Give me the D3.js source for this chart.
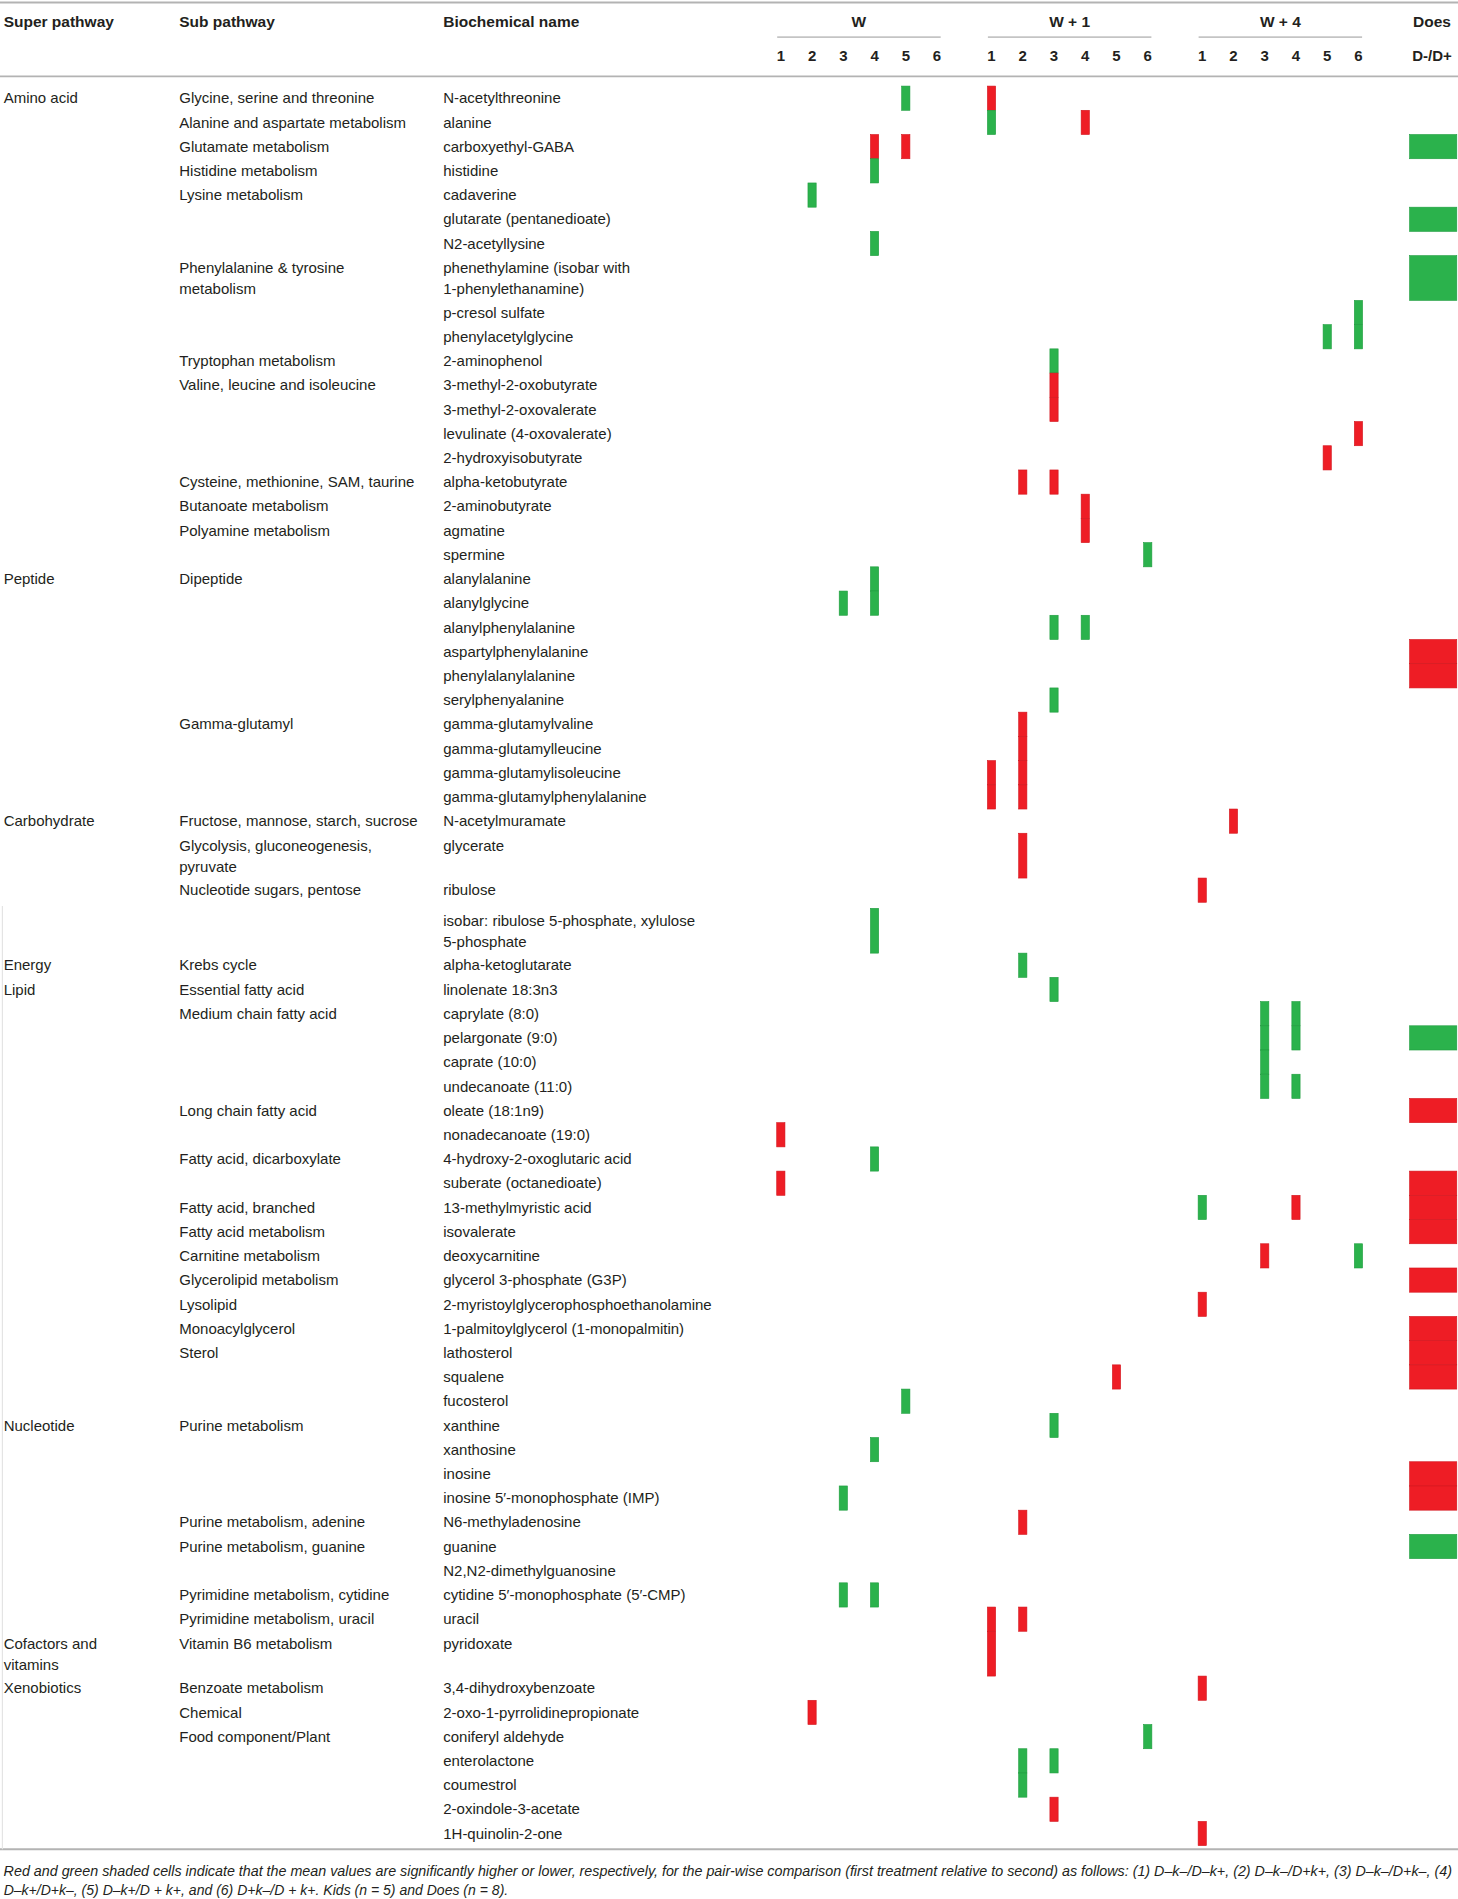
<!DOCTYPE html>
<html><head><meta charset="utf-8">
<script src="https://cdn.jsdelivr.net/npm/d3@7"></script>
<style>
html,body{margin:0;padding:0;background:#fff;}
svg{display:block;}
text{font-family:"Liberation Sans",Arial,sans-serif;fill:#231f20;}
</style></head>
<body>
<div id="chart"></div>
<script>
// ---------------- DATA ----------------
const groups = ["W", "W + 1", "W + 4"];
const comparisons = [1, 2, 3, 4, 5, 6];
const headers = ["Super pathway", "Sub pathway", "Biochemical name"];

const names = [
"N-acetylthreonine","alanine","carboxyethyl-GABA","histidine","cadaverine",
"glutarate (pentanedioate)","N2-acetyllysine","phenethylamine (isobar with\n1-phenylethanamine)",
"p-cresol sulfate","phenylacetylglycine","2-aminophenol","3-methyl-2-oxobutyrate",
"3-methyl-2-oxovalerate","levulinate (4-oxovalerate)","2-hydroxyisobutyrate","alpha-ketobutyrate",
"2-aminobutyrate","agmatine","spermine","alanylalanine","alanylglycine","alanylphenylalanine",
"aspartylphenylalanine","phenylalanylalanine","serylphenyalanine","gamma-glutamylvaline",
"gamma-glutamylleucine","gamma-glutamylisoleucine","gamma-glutamylphenylalanine","N-acetylmuramate",
"glycerate","ribulose","isobar: ribulose 5-phosphate, xylulose\n5-phosphate","alpha-ketoglutarate",
"linolenate 18:3n3","caprylate (8:0)","pelargonate (9:0)","caprate (10:0)","undecanoate (11:0)",
"oleate (18:1n9)","nonadecanoate (19:0)","4-hydroxy-2-oxoglutaric acid","suberate (octanedioate)",
"13-methylmyristic acid","isovalerate","deoxycarnitine","glycerol 3-phosphate (G3P)",
"2-myristoylglycerophosphoethanolamine","1-palmitoylglycerol (1-monopalmitin)","lathosterol",
"squalene","fucosterol","xanthine","xanthosine","inosine","inosine 5′-monophosphate (IMP)",
"N6-methyladenosine","guanine","N2,N2-dimethylguanosine","cytidine 5′-monophosphate (5′-CMP)",
"uracil","pyridoxate","3,4-dihydroxybenzoate","2-oxo-1-pyrrolidinepropionate","coniferyl aldehyde",
"enterolactone","coumestrol","2-oxindole-3-acetate","1H-quinolin-2-one"
];

const superPathways = [
["N-acetylthreonine","Amino acid"],
["alanylalanine","Peptide"],
["N-acetylmuramate","Carbohydrate"],
["alpha-ketoglutarate","Energy"],
["linolenate 18:3n3","Lipid"],
["xanthine","Nucleotide"],
["pyridoxate","Cofactors and\nvitamins"],
["3,4-dihydroxybenzoate","Xenobiotics"]
];

const subPathways = [
["N-acetylthreonine","Glycine, serine and threonine"],
["alanine","Alanine and aspartate metabolism"],
["carboxyethyl-GABA","Glutamate metabolism"],
["histidine","Histidine metabolism"],
["cadaverine","Lysine metabolism"],
["phenethylamine (isobar with","Phenylalanine & tyrosine\nmetabolism"],
["2-aminophenol","Tryptophan metabolism"],
["3-methyl-2-oxobutyrate","Valine, leucine and isoleucine"],
["alpha-ketobutyrate","Cysteine, methionine, SAM, taurine"],
["2-aminobutyrate","Butanoate metabolism"],
["agmatine","Polyamine metabolism"],
["alanylalanine","Dipeptide"],
["gamma-glutamylvaline","Gamma-glutamyl"],
["N-acetylmuramate","Fructose, mannose, starch, sucrose"],
["glycerate","Glycolysis, gluconeogenesis,\npyruvate"],
["ribulose","Nucleotide sugars, pentose"],
["alpha-ketoglutarate","Krebs cycle"],
["linolenate 18:3n3","Essential fatty acid"],
["caprylate (8:0)","Medium chain fatty acid"],
["oleate (18:1n9)","Long chain fatty acid"],
["4-hydroxy-2-oxoglutaric acid","Fatty acid, dicarboxylate"],
["13-methylmyristic acid","Fatty acid, branched"],
["isovalerate","Fatty acid metabolism"],
["deoxycarnitine","Carnitine metabolism"],
["glycerol 3-phosphate (G3P)","Glycerolipid metabolism"],
["2-myristoylglycerophosphoethanolamine","Lysolipid"],
["1-palmitoylglycerol (1-monopalmitin)","Monoacylglycerol"],
["lathosterol","Sterol"],
["xanthine","Purine metabolism"],
["N6-methyladenosine","Purine metabolism, adenine"],
["guanine","Purine metabolism, guanine"],
["cytidine 5′-monophosphate (5′-CMP)","Pyrimidine metabolism, cytidine"],
["uracil","Pyrimidine metabolism, uracil"],
["pyridoxate","Vitamin B6 metabolism"],
["3,4-dihydroxybenzoate","Benzoate metabolism"],
["2-oxo-1-pyrrolidinepropionate","Chemical"],
["coniferyl aldehyde","Food component/Plant"]
];

// significance: [metabolite, comparison, +1 = higher (red), -1 = lower (green)]
const sigW = [
["N-acetylthreonine",5,-1],
["carboxyethyl-GABA",4,1],["carboxyethyl-GABA",5,1],
["histidine",4,-1],
["cadaverine",2,-1],
["N2-acetyllysine",4,-1],
["alanylalanine",4,-1],
["alanylglycine",3,-1],["alanylglycine",4,-1],
["isobar: ribulose 5-phosphate, xylulose",4,-1],
["nonadecanoate (19:0)",1,1],
["4-hydroxy-2-oxoglutaric acid",4,-1],
["suberate (octanedioate)",1,1],
["fucosterol",5,-1],
["xanthosine",4,-1],
["inosine 5′-monophosphate (IMP)",3,-1],
["cytidine 5′-monophosphate (5′-CMP)",3,-1],["cytidine 5′-monophosphate (5′-CMP)",4,-1],
["2-oxo-1-pyrrolidinepropionate",2,1]
];
const sigW1 = [
["N-acetylthreonine",1,1],
["alanine",1,-1],["alanine",4,1],
["2-aminophenol",3,-1],
["3-methyl-2-oxobutyrate",3,1],["3-methyl-2-oxovalerate",3,1],
["alpha-ketobutyrate",2,1],["alpha-ketobutyrate",3,1],
["2-aminobutyrate",4,1],["agmatine",4,1],
["spermine",6,-1],
["alanylphenylalanine",3,-1],["alanylphenylalanine",4,-1],
["serylphenyalanine",3,-1],
["gamma-glutamylvaline",2,1],["gamma-glutamylleucine",2,1],
["gamma-glutamylisoleucine",1,1],["gamma-glutamylisoleucine",2,1],
["gamma-glutamylphenylalanine",1,1],["gamma-glutamylphenylalanine",2,1],
["glycerate",2,1],
["alpha-ketoglutarate",2,-1],
["linolenate 18:3n3",3,-1],
["squalene",5,1],
["xanthine",3,-1],
["N6-methyladenosine",2,1],
["uracil",1,1],["uracil",2,1],
["pyridoxate",1,1],
["coniferyl aldehyde",6,-1],
["enterolactone",2,-1],["enterolactone",3,-1],
["coumestrol",2,-1],
["2-oxindole-3-acetate",3,1]
];
const sigW4 = [
["p-cresol sulfate",6,-1],["phenylacetylglycine",5,-1],["phenylacetylglycine",6,-1],
["levulinate (4-oxovalerate)",6,1],
["2-hydroxyisobutyrate",5,1],
["N-acetylmuramate",2,1],
["ribulose",1,1],
["caprylate (8:0)",3,-1],["caprylate (8:0)",4,-1],
["pelargonate (9:0)",3,-1],["pelargonate (9:0)",4,-1],
["caprate (10:0)",3,-1],
["undecanoate (11:0)",3,-1],["undecanoate (11:0)",4,-1],
["13-methylmyristic acid",1,-1],["13-methylmyristic acid",4,1],
["deoxycarnitine",3,1],["deoxycarnitine",6,-1],
["2-myristoylglycerophosphoethanolamine",1,1],
["3,4-dihydroxybenzoate",1,1],
["1H-quinolin-2-one",1,1]
];
const sigDoes = [
["carboxyethyl-GABA",-1],["glutarate (pentanedioate)",-1],["phenethylamine (isobar with",-1],
["aspartylphenylalanine",1],["phenylalanylalanine",1],["pelargonate (9:0)",-1],
["oleate (18:1n9)",1],["suberate (octanedioate)",1],["13-methylmyristic acid",1],["isovalerate",1],
["glycerol 3-phosphate (G3P)",1],["1-palmitoylglycerol (1-monopalmitin)",1],["lathosterol",1],
["squalene",1],["inosine",1],["inosine 5′-monophosphate (IMP)",1],["guanine",-1]
];

const footnote = [
"Red and green shaded cells indicate that the mean values are significantly higher or lower, respectively, for the pair-wise comparison (first treatment relative to second) as follows: (1) D–k–/D–k+, (2) D–k–/D+k+, (3) D–k–/D+k–, (4)",
"D–k+/D+k–, (5) D–k+/D + k+, and (6) D+k–/D + k+. Kids (n = 5) and Does (n = 8)."
];

// ---------------- LAYOUT ----------------
const VW = 1204, VH = 1568;
const svg = d3.select("#chart").append("svg")
  .attr("width", 1458).attr("height", 1899)
  .attr("viewBox", `0 0 ${VW} ${VH}`);

const key = n => n.split("\n")[0];
const keys = names.map(key);
const supMap = new Map(superPathways);
const subMap = new Map(subPathways);

const FS = 12.4, LINE = 17.5;
let yCur = 71;
const tops = [], heights = [];
keys.forEach((k, i) => {
  const lines = Math.max(names[i].split("\n").length,
    (subMap.get(k) || "").split("\n").length,
    (supMap.get(k) || "").split("\n").length);
  if (k.startsWith("isobar")) yCur += 5;
  const h = 20 + (lines - 1) * 17;
  tops.push(yCur); heights.push(h);
  yCur += h;
});
const yTop = d3.scaleOrdinal(keys, tops);
const yH = d3.scaleOrdinal(keys, heights);
const tableBottom = yCur + 3;

const xGroup = d3.scalePoint(groups, [644.8, 992.8]);
const xCol = d3.scaleLinear([1, 6], [0, 129]);
const colour = d3.scaleOrdinal([1, -1], ["#ee1d25", "#2bb24c"]);
const strokeC = d3.scaleOrdinal([1, -1], ["#d3161e", "#1f9d3f"]);
const xDoes = d3.scaleBand(["Does"], [1164, 1203]);
const colX = [3, 148, 366];

// rules
const rule = (x1, x2, y, c, w) => svg.append("line").attr("x1", x1).attr("x2", x2)
  .attr("y1", y).attr("y2", y).attr("stroke", c).attr("stroke-width", w);
rule(0, VW, 2, "#b3b3b3", 1.5);
rule(0, VW, 63, "#b3b3b3", 1.5);
rule(0, VW, tableBottom, "#b3b3b3", 1.5);
svg.append("line").attr("x1", 2).attr("x2", 2).attr("y1", yTop(keys[32]) - 2).attr("y2", tableBottom)
  .attr("stroke", "#e4e4e4").attr("stroke-width", 1);

// headers
headers.forEach((h, i) => svg.append("text").attr("x", colX[i]).attr("y", 22.5)
  .attr("font-size", 12.8).attr("font-weight", "bold").text(h));
groups.forEach(g => {
  const gx = xGroup(g);
  svg.append("text").attr("x", gx + 64.5).attr("y", 22.5).attr("text-anchor", "middle")
    .attr("font-size", 12.8).attr("font-weight", "bold").text(g);
  rule(gx - 3, gx + 132, 30.5, "#c4c4c4", 1.5);
  comparisons.forEach(c => svg.append("text").attr("x", gx + xCol(c)).attr("y", 50.5)
    .attr("text-anchor", "middle").attr("font-size", 12.4).attr("font-weight", "bold").text(c));
});
svg.append("text").attr("x", xDoes("Does") + xDoes.bandwidth() / 2 - 1).attr("y", 22.5)
  .attr("text-anchor", "middle").attr("font-size", 12.8).attr("font-weight", "bold").text("Does");
svg.append("text").attr("x", xDoes("Does") + xDoes.bandwidth() / 2 - 1).attr("y", 50.5)
  .attr("text-anchor", "middle").attr("font-size", 12.4).attr("font-weight", "bold").text("D-/D+");

// bars
const bars = svg.append("g");
const addBars = (arr, g) => bars.selectAll(null).data(arr).enter().append("rect")
  .attr("x", d => xGroup(g) + xCol(d[1]) - 3.4)
  .attr("width", 6.8)
  .attr("y", d => yTop(d[0]))
  .attr("height", d => yH(d[0]))
  .attr("fill", d => colour(d[2]))
  .attr("stroke", d => strokeC(d[2])).attr("stroke-width", 0.5);
addBars(sigW, "W"); addBars(sigW1, "W + 1"); addBars(sigW4, "W + 4");
bars.selectAll(null).data(sigDoes).enter().append("rect")
  .attr("x", xDoes("Does")).attr("width", xDoes.bandwidth())
  .attr("y", d => yTop(d[0])).attr("height", d => yH(d[0]))
  .attr("fill", d => colour(d[1]))
  .attr("stroke", d => strokeC(d[1])).attr("stroke-width", 0.5);

// row texts
const cellText = (x, k, str) => {
  const t = svg.append("text").attr("x", x).attr("font-size", FS);
  str.split("\n").forEach((s, j) => t.append("tspan").attr("x", x)
    .attr("y", yTop(k) + 14.3 + j * LINE).text(s));
};
keys.forEach((k, i) => {
  if (supMap.has(k)) cellText(colX[0], k, supMap.get(k));
  if (subMap.has(k)) cellText(colX[1], k, subMap.get(k));
  cellText(colX[2], k, names[i]);
});

// footnote
footnote.forEach((s, i) => {
  const t = svg.append("text").attr("x", 3).attr("y", tableBottom + 22 + i * 15.5)
    .attr("font-size", 11.6).attr("font-style", "italic").text(s);
  if (i === 0) t.attr("textLength", 1196).attr("lengthAdjust", "spacingAndGlyphs");
});
</script>
</body></html>
